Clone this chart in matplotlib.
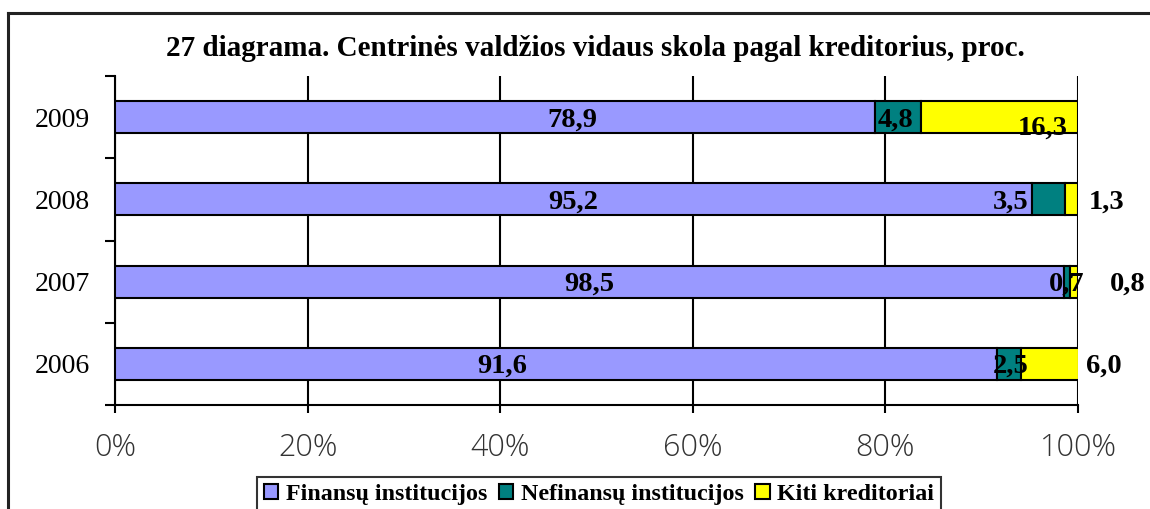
import matplotlib
matplotlib.use("Agg")
import matplotlib.pyplot as plt
from matplotlib.lines import Line2D
import numpy as np

years = ["2006", "2007", "2008", "2009"]
series_names = ["Finansų institucijos", "Nefinansų institucijos", "Kiti kreditoriai"]
finansu = [91.6, 98.5, 95.2, 78.9]
nefinansu = [2.5, 0.7, 3.5, 4.8]
kiti = [6.0, 0.8, 1.3, 16.3]
label_texts = [["91,6", "2,5", "6,0"], ["98,5", "0,7", "0,8"],
               ["95,2", "3,5", "1,3"], ["78,9", "4,8", "16,3"]]
# label x positions (percent) as placed in the original chart
label_x = [[40.2, 93.0, 102.7], [49.2, 98.8, 105.2],
           [47.6, 93.0, 103.0], [47.5, 81.1, 96.3]]
label_dy = [[-2, -2, -2], [-2, -2, -2], [-2, -2, -2], [-2, -2, -8]]
xtick_vals = [0, 20, 40, 60, 80, 100]
xtick_labels = ["0%", "20%", "40%", "60%", "80%", "100%"]
title = "27 diagrama. Centrinės valdžios vidaus skola pagal kreditorius, proc."
colors = ["#9999FF", "#008080", "#FFFF00"]

fig = plt.figure(figsize=(11.5, 5.09), dpi=100)
ax = fig.add_axes([115/1150, 1-405/509, (1078-115)/1150, (405-76)/509])

y = np.arange(len(years))
data = [finansu, nefinansu, kiti]
left = np.zeros(len(years))
for vals, col, name in zip(data, colors, series_names):
    ax.barh(y, vals, left=left, height=0.39, color=col, edgecolor="black",
            linewidth=1.5, label=name, zorder=3)
    left = left + np.array(vals)

for i in range(len(years)):
    for j in range(3):
        ax.annotate(label_texts[i][j], (label_x[i][j], y[i]), xytext=(0, label_dy[i][j]),
                    textcoords="offset points", ha="center", va="center",
                    fontsize=20.5, fontweight="bold", family="Liberation Serif",
                    color="black", zorder=5, annotation_clip=False)

ax.set_xlim(0, 100)
ax.set_ylim(-0.5, len(years) - 0.5)
ax.set_xticks(xtick_vals)
ax.set_xticklabels(xtick_labels, fontsize=22, color="#333333", family="Open Sans",
                   fontweight="light")
ax.set_yticks(y)
ax.set_yticklabels(years, fontsize=20, family="Liberation Serif", color="black")
ax.set_yticks(np.arange(-0.5, len(years)), minor=True)
ax.tick_params(axis="y", which="major", length=0, pad=18)
ax.tick_params(axis="y", which="minor", length=7.2, width=1.5, direction="out")
ax.tick_params(axis="x", which="major", length=5.8, width=1.5, direction="out", pad=14)

ax.grid(axis="x", color="black", linewidth=1.5, zorder=0)
ax.set_axisbelow(True)
for s in ["top", "right"]:
    ax.spines[s].set_visible(False)
for s in ["left", "bottom"]:
    ax.spines[s].set_linewidth(1.5)

fig.text(595/1150, 1-48/509, title, ha="center", va="center", fontsize=21,
         fontweight="bold", family="Liberation Serif")

leg = fig.legend(loc="upper center", bbox_to_anchor=(599/1150, 1-477/509), ncol=3,
                 frameon=True, fancybox=False, edgecolor="black",
                 prop={"family": "Liberation Serif", "weight": "bold", "size": 17.3},
                 handlelength=0.6, handleheight=0.6, handletextpad=0.3,
                 columnspacing=0.5, borderpad=0.3, borderaxespad=0)
leg.get_frame().set_linewidth(1.5)
for h in leg.legend_handles:
    h.set_linewidth(1.5)

# outer frame (top and left lines)
fig.add_artist(Line2D([8/1150, 1.0], [1-13/509, 1-13/509], color="#222222", linewidth=2.2,
                      transform=fig.transFigure))
fig.add_artist(Line2D([8/1150, 8/1150], [1-13/509, 0], color="#222222", linewidth=2.2,
                      transform=fig.transFigure))

fig.savefig("out.png", dpi=100)
